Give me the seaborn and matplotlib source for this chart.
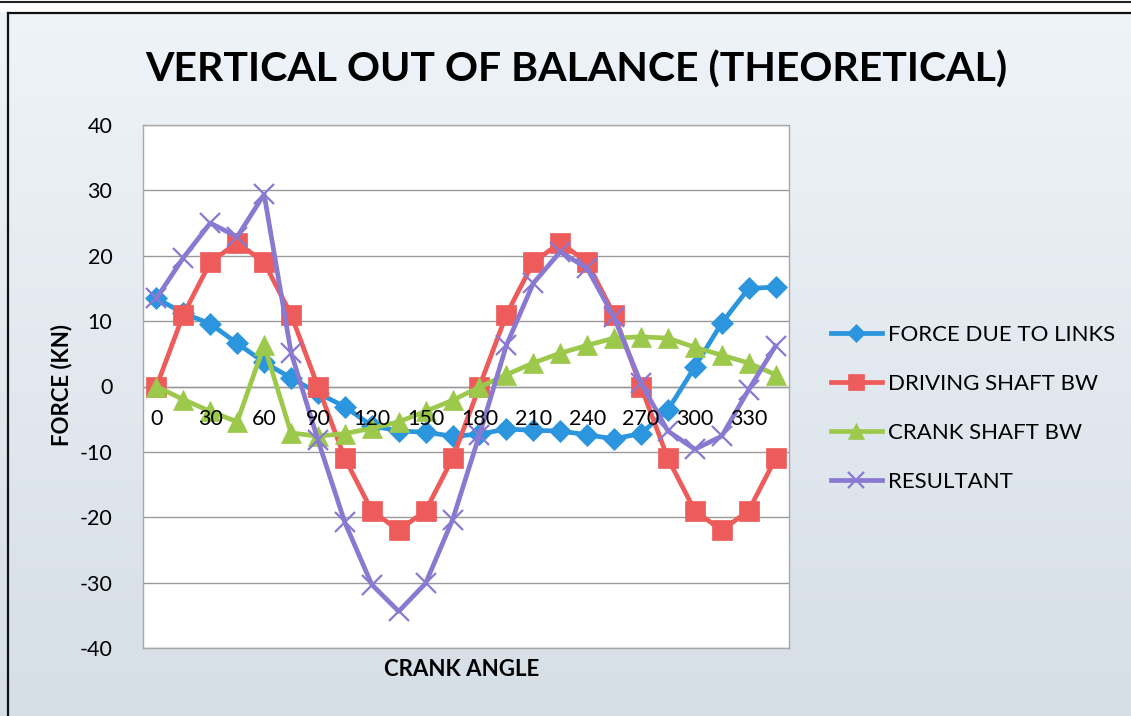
import numpy as np
import pandas as pd
import matplotlib
matplotlib.use("Agg")
import matplotlib.pyplot as plt
from matplotlib.lines import Line2D
from matplotlib.patches import Rectangle
import seaborn as sns

# Crank angle, degrees (one revolution in 15 degree steps)
angles = [0, 15, 30, 45, 60, 75, 90, 105, 120, 135, 150, 165,
          180, 195, 210, 225, 240, 255, 270, 285, 300, 315, 330, 345]

force_links = [13.5, 11.2, 9.6, 6.6, 3.7, 1.3, -1.0, -3.1, -6.0, -6.8, -7.0, -7.6,
               -7.3, -6.5, -6.7, -6.8, -7.4, -8.0, -7.2, -3.6, 3.0, 9.7, 15.0, 15.2]
driving_shaft_bw = [0, 11, 19, 22, 19, 11, 0, -11, -19, -22, -19, -11,
                    0, 11, 19, 22, 19, 11, 0, -11, -19, -22, -19, -11]
crank_shaft_bw = [0.0, -2.0, -3.8, -5.4, 6.3, -7.1, -7.6, -7.2, -6.4, -5.4, -3.8, -2.1,
                  -0.1, 1.8, 3.6, 5.1, 6.3, 7.4, 7.6, 7.4, 6.0, 4.8, 3.6, 1.8]
resultant = [13.5, 19.7, 25.0, 22.9, 29.4, 5.2, -8.2, -20.8, -30.3, -34.4, -30.1, -20.4,
             -7.4, 6.3, 15.8, 20.6, 18.1, 10.6, 0.5, -6.8, -9.6, -7.6, -0.5, 6.2]

series_names = ["FORCE DUE TO LINKS", "DRIVING SHAFT BW", "CRANK SHAFT BW", "RESULTANT"]
tick_angles = [0, 30, 60, 90, 120, 150, 180, 210, 240, 270, 300, 330]
y_ticks = [-40, -30, -20, -10, 0, 10, 20, 30, 40]

df = pd.DataFrame({
    "angle": angles * 4,
    "force": force_links + driving_shaft_bw + crank_shaft_bw + resultant,
    "series": sum([[n] * len(angles) for n in series_names], []),
})

styles = {
    "FORCE DUE TO LINKS": dict(color="#2b95de", marker="D", ms=11),
    "DRIVING SHAFT BW": dict(color="#ee5b5b", marker="s", ms=15),
    "CRANK SHAFT BW": dict(color="#9cc94b", marker="^", ms=15),
    "RESULTANT": dict(color="#8a79d1", marker="x", ms=14),
}

W, H = 1131, 716
fig = plt.figure(figsize=(W / 100, H / 100), dpi=100)
font = ["Lato", "DejaVu Sans"]
plt.rcParams["font.family"] = font
plt.rcParams["axes.unicode_minus"] = False

# Soft blue-grey vertical gradient behind everything
bg = fig.add_axes([0, 0, 1, 1], zorder=-10)
grad = np.linspace(0, 1, 256).reshape(-1, 1)
top_c = np.array([0xef, 0xf4, 0xf9]) / 255
bot_c = np.array([0xd6, 0xde, 0xe6]) / 255
img = top_c[None, None, :] * (1 - grad[..., None]) + bot_c[None, None, :] * grad[..., None]
bg.imshow(img, aspect="auto", extent=[0, 1, 0, 1])
bg.set_xlim(0, 1); bg.set_ylim(0, 1)
bg.axis("off")

# Page strip and chart frame
fig.patches.append(Rectangle((0, 1 - 12 / H), 1, 12 / H, transform=fig.transFigure,
                             facecolor="white", edgecolor="none", zorder=-5))
fig.lines.append(Line2D([0, 1], [1 - 1.5 / H, 1 - 1.5 / H], transform=fig.transFigure,
                        color="#222222", lw=1.5))
fig.lines.append(Line2D([8 / W, 1], [1 - 13 / H, 1 - 13 / H], transform=fig.transFigure,
                        color="#111111", lw=1.6))
fig.lines.append(Line2D([8 / W, 8 / W], [0, 1 - 13 / H], transform=fig.transFigure,
                        color="#111111", lw=1.6))

ax = fig.add_axes([143 / W, 1 - 648 / H, (789 - 143) / W, (648 - 125) / H])
ax.set_facecolor("white")

for name in series_names:
    st = styles[name]
    sub = df[df["series"] == name]
    kw = dict(markersize=st["ms"], markeredgecolor=st["color"])
    if st["marker"] == "x":
        kw["markeredgewidth"] = 1.6
    else:
        kw["markeredgewidth"] = 0.5
    sns.lineplot(data=sub, x="angle", y="force", ax=ax, color=st["color"],
                 marker=st["marker"], linewidth=3.4, label=name, zorder=3, **kw)

ax.set_xlim(-7.5, 352.5)
ax.set_ylim(-40, 40)
ax.set_yticks(y_ticks)
ax.set_xticks(tick_angles)
ax.set_xticklabels([str(a) for a in tick_angles])
ax.yaxis.grid(True, color="#9a9a9a", lw=1.0)
ax.xaxis.grid(False)
ax.yaxis.set_zorder(0.5)
ax.xaxis.set_zorder(5)

for s in ["top", "right", "left"]:
    ax.spines[s].set_color("#a8a8a8")
    ax.spines[s].set_linewidth(1.0)
ax.spines["bottom"].set_position(("data", 0))
ax.spines["bottom"].set_color("#9a9a9a")
ax.spines["bottom"].set_linewidth(1.0)
ax.spines["bottom"].set_zorder(1)
# Outline the bottom edge of the plot area as well
ax.add_line(Line2D([0, 1], [0, 0], transform=ax.transAxes, color="#a8a8a8", lw=1.0,
                   clip_on=False))

ax.tick_params(axis="x", length=0, pad=16, labelsize=15.5, labelcolor="black")
ax.tick_params(axis="y", length=0, pad=22, labelsize=15.5, labelcolor="black")

ax.set_xlabel("")
ax.set_ylabel("")
fig.text(462 / W, 1 - 670 / H, "CRANK ANGLE", ha="center", va="center",
         fontsize=16, fontweight="bold", family=font)
fig.text(62 / W, 1 - 385 / H, "FORCE (KN)", ha="center", va="center", rotation=90,
         fontsize=16, fontweight="bold", family=font)
fig.text(576 / W, 1 - 70 / H, "VERTICAL OUT OF BALANCE (THEORETICAL)", ha="center",
         va="center", fontsize=29.5, fontweight="bold", family=font)

leg = ax.legend(loc="upper left", bbox_to_anchor=(822 / W, 1 - 316 / H),
                bbox_transform=fig.transFigure, frameon=False, fontsize=16,
                handlelength=2.3, handletextpad=0.25, labelspacing=1.3,
                borderaxespad=0)
for h in leg.legend_handles:
    h.set_markersize(h.get_markersize() * 0.8)

fig.savefig("out.png", dpi=100)
